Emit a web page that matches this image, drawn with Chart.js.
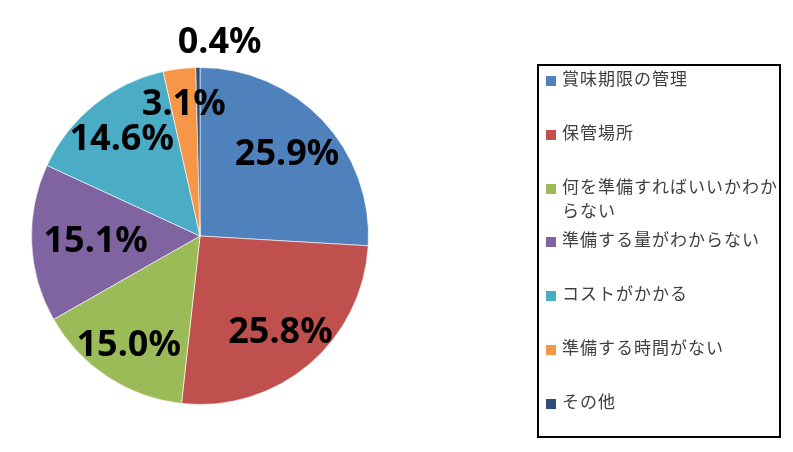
<!DOCTYPE html>
<html>
<head>
<meta charset="utf-8">
<script src="https://cdn.jsdelivr.net/npm/chart.js@4"></script>
<style>
  html, body { margin: 0; padding: 0; background: #fff; }
  #wrap { position: relative; width: 793px; height: 452px; }
  #chart { position: absolute; left: 0; top: 0; }
  #legend {
    position: absolute; left: 537px; top: 64px; width: 240px; height: 370px;
    border: 2px solid #000; box-sizing: content-box;
    font-family: "Noto Sans CJK JP", sans-serif; font-size: 17px; color: #404040;
  }
  .item { position: absolute; left: 0; display: flex; align-items: flex-start; }
  .sw { width: 10px; height: 10px; margin: 10px 6px 0 7px; flex: none; }
  .tx { width: 218px; line-height: 24px; letter-spacing: 1px; word-break: break-all; }
</style>
</head>
<body>
<div id="wrap">
  <canvas id="chart" width="793" height="452"></canvas>
  <div id="legend"></div>
</div>
<script>
// データ: 準備で困っていること（割合 %）
const labels = ['賞味期限の管理', '保管場所', '何を準備すればいいかわからない', '準備する量がわからない', 'コストがかかる', '準備する時間がない', 'その他'];
const values = [25.9, 25.8, 15.0, 15.1, 14.6, 3.1, 0.4];
const colors = ['#4F81BD', '#C0504D', '#9BBB59', '#8064A2', '#4BACC6', '#F79646', '#2C4D75'];

// ラベル位置（半径比と横ずらし）
const labelRadius = [0.71, 0.74, 0.77, 0.62, 0.74, 0.79, 1.15];
const labelShiftX = [0, 0, 0, 0, 0, 0, 22];

// 凡例はHTMLで
const legendEl = document.getElementById('legend');
labels.forEach((name, i) => {
  const item = document.createElement('div');
  item.className = 'item';
  item.style.top = (0 + i * 53.8) + 'px';
  item.innerHTML = `<span class="sw" style="background:${colors[i]}"></span><span class="tx">${name}</span>`;
  legendEl.appendChild(item);
});

new Chart(document.getElementById('chart'), {
  type: 'pie',
  data: {
    labels: labels,
    datasets: [{
      data: values,
      backgroundColor: colors,
      borderColor: 'rgba(255,255,255,0.6)',
      borderWidth: 1,
    }],
  },
  options: {
    responsive: false,
    animation: false,
    layout: { padding: { left: 31, top: 67, right: 424, bottom: 47 } },
    plugins: {
      legend: { display: false },
      tooltip: { enabled: false },
    },
  },
  plugins: [{
    id: 'pctLabels',
    afterDraw(chart) {
      const c = chart.ctx;
      const meta = chart.getDatasetMeta(0);
      c.save();
      c.textAlign = 'center';
      c.textBaseline = 'middle';
      c.fillStyle = '#000';
      c.font = 'bold 36px "Noto Sans", sans-serif';
      meta.data.forEach((arc, i) => {
        const mid = (arc.startAngle + arc.endAngle) / 2;
        const r = arc.outerRadius * labelRadius[i];
        const x = arc.x + Math.cos(mid) * r + labelShiftX[i];
        const y = arc.y + Math.sin(mid) * r + 1;
        c.fillText(values[i].toFixed(1) + '%', x, y);
      });
      c.restore();
    },
  }],
});
</script>
</body>
</html>
